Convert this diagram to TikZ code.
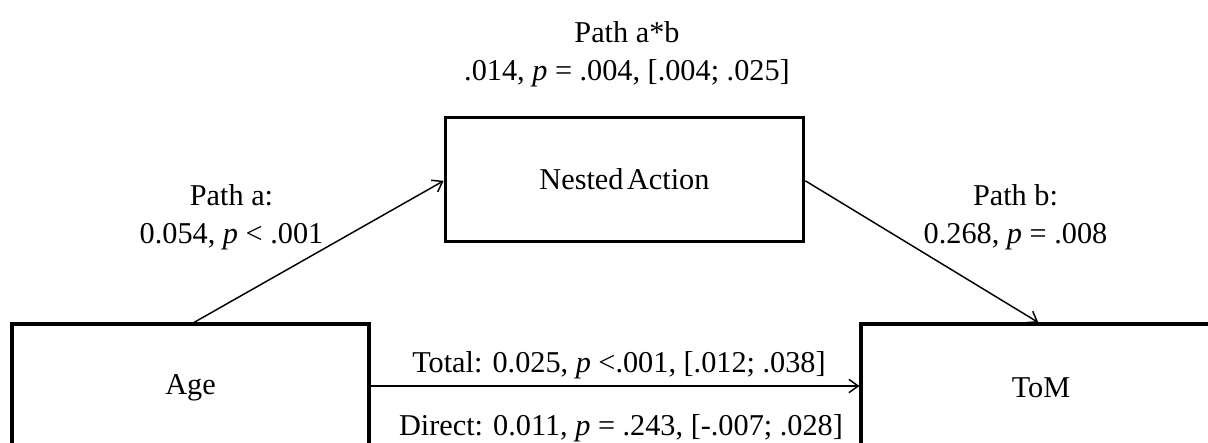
\documentclass[tikz,border=0pt]{standalone}
\usepackage{fontspec}
\setmainfont{Liberation Serif}
\usetikzlibrary{arrows.meta}
\begin{document}
\begin{tikzpicture}[x=0.75pt,y=-0.75pt,
  lbl/.style={font=\fontsize{22.7}{27}\selectfont, inner sep=0pt, anchor=base},
  varbox/.style={draw, line width=2.3pt, minimum width=269pt, minimum height=93pt, inner sep=0pt, font=\fontsize{22.7}{27}\selectfont},
  conn/.style={line width=1.1pt, -{Straight Barb[length=7pt,width=10pt]}}]
\useasboundingbox (0,0) rectangle (1208,443);
\clip (0,0) rectangle (1208,443);
\node[varbox] (nested) at (624.5,179.5) {Nested\hspace{0.12em}Action};
\node[varbox, minimum width=267.75pt, minimum height=96pt] (age) at (190.5,388) {Age};
\node[varbox, minimum width=270pt, minimum height=96pt] (tom) at (1041,388) {ToM};
\draw[conn] ([xshift=2.6pt]age.north) -- ([yshift=-1pt]nested.west);
\draw[conn] ([yshift=-1pt]nested.east) -- ([xshift=-2pt]tom.north);
\draw[conn] ([yshift=1.5pt]age.east) -- ([yshift=1.5pt]tom.west);
\node[lbl] (ab1) at (627,42) {Path a*b};
\node[lbl] (ab2) at (627,80) {.014, \textit{p} = .004, [.004; .025]};
\node[lbl] (a1) at (231.5,205) {Path a:};
\node[lbl] (a2) at (231.5,243) {0.054, \textit{p} < .001};
\node[lbl] (b1) at (1015.5,205) {Path b:};
\node[lbl] (b2) at (1015.5,243) {0.268, \textit{p} = .008};
\node[lbl] (tot) at (619,372) {Total: 0.025, \textit{p} <.001, [.012; .038]};
\node[lbl] (dir) at (621,435) {Direct: 0.011, \textit{p} = .243, [-.007; .028]};
\end{tikzpicture}
\end{document}
